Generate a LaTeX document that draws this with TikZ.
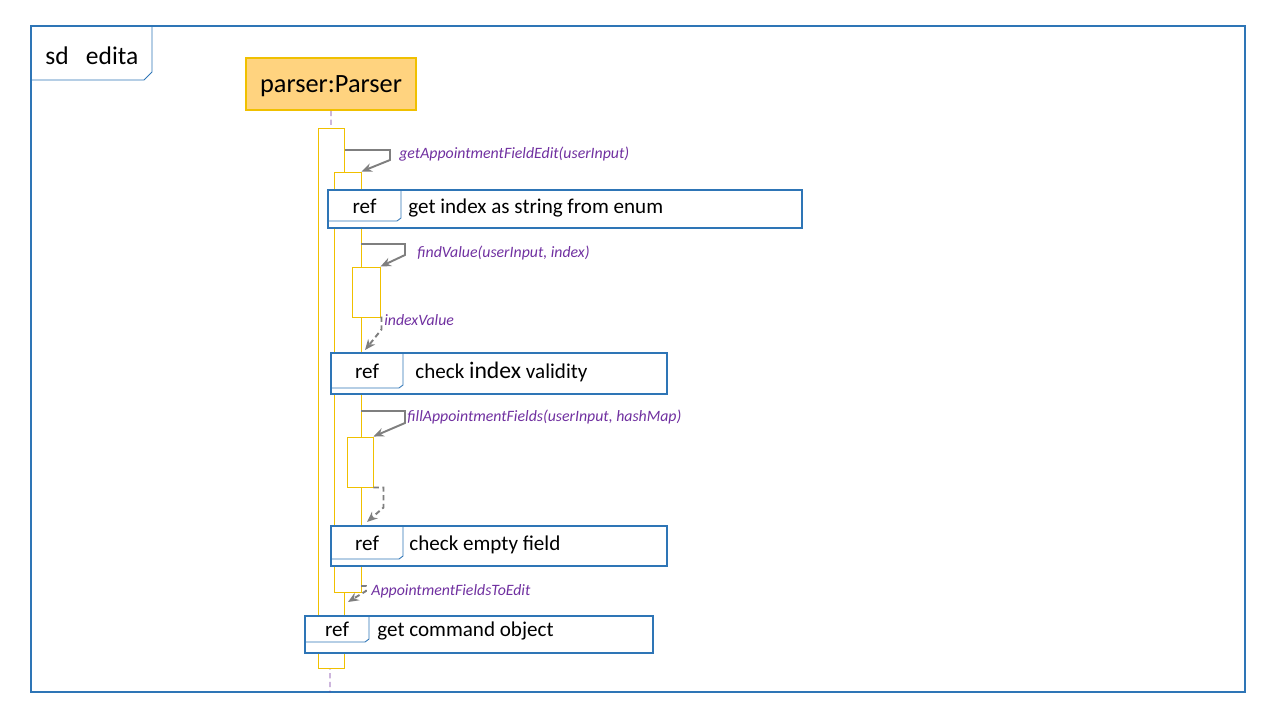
\documentclass[tikz,border=0pt]{standalone}
\usepackage{fontspec}
\setmainfont{Carlito}
\usetikzlibrary{arrows.meta,fit}
\definecolor{umlblue}{HTML}{2E75B6}
\definecolor{headfill}{HTML}{FFD37F}
\definecolor{gold}{HTML}{F0C000}
\definecolor{msgpurple}{HTML}{7030A0}
\definecolor{msggrey}{HTML}{7F7F7F}

\begin{document}
\begin{tikzpicture}[x=0.02cm,y=-0.02cm,
    act/.style={draw=gold,fill=white,line width=0.55pt,inner sep=0pt},
    refbox/.style={draw=umlblue,fill=white,line width=1.1pt,inner sep=0pt},
    tagline/.style={draw=umlblue,line width=0.5pt},
    call/.style={draw=msggrey,line width=1.1pt,-{Stealth[length=6pt,width=5pt]}},
    ret/.style={call,dash pattern=on 3pt off 2pt},
    msg/.style={anchor=west,text=msgpurple,font=\fontsize{9}{11}\selectfont\itshape,inner sep=0pt,
      text height=6pt,text depth=2pt},
    reftxt/.style={anchor=west,inner sep=0pt,font=\fontsize{12}{14}\selectfont,
      text height=8pt,text depth=2.5pt}]
  \useasboundingbox (0,0) rectangle (1280,720);
  % frame
  \node[draw=umlblue,line width=1.2pt,inner sep=0pt,fit={(31,26) (1245,692)}] (frame) {};
  \draw[tagline] (152,26) -- (152,72) -- (144,80) -- (31,80);
  \node[anchor=west,inner sep=0pt,font=\fontsize{14.5}{17}\selectfont,
    text height=10pt,text depth=3pt] (sd) at (45,58) {sd\ \ \ edita};
  % lifeline
  \node[draw=gold,fill=headfill,line width=1pt,minimum width=3.4cm,minimum height=1.04cm,
    font=\fontsize{15}{18}\selectfont,text height=10pt,text depth=3pt] (parser) at (331,84) {};
  \node[font=\fontsize{15}{18}\selectfont,text height=10pt,text depth=3pt,inner sep=0pt]
    (parser-txt) at (331,86) {parser:Parser};
  \coordinate (lend) at (330,692);
  \draw[msgpurple,line width=0.5pt,dash pattern=on 3pt off 2pt] (parser.south) -- (lend);
  % activations
  \foreach \nm/\xl/\yt/\xr/\yb in {a1/318/128/344/668,a2/334/172/361/592,
      a3/352/267/380/317,a4/347/437/373/487}{
    \node[act,fit={(\xl,\yt) (\xr,\yb)}] (\nm) {};}
  % refs
  \foreach \nm/\xl/\yt/\xr/\yb/\xs/\ys/\xt/\txt in {
      r1/328/190/802/228/401/221/408/{get index as string from enum},
      r2/331/353/667/394/403/388/415/{check {\fontsize{13.5}{16}\selectfont index} validity},
      r3/331/526/667/566/403/559/409/{check empty field},
      r4/305/616/653/653/369/642/377/{get command object}}{
    \node[refbox,fit={(\xl,\yt) (\xr,\yb)}] (\nm) {};
    \draw[tagline] (\xs,\yt) -- (\xs,\ys-3) -- (\xs-4,\ys) -- (\xl,\ys);
    \node[reftxt,anchor=center] (\nm-tag) at ({(\xl+\xs)/2},{(\yt+\ys)/2+3}) {ref};
    \node[reftxt] (\nm-txt) at (\xt,{(\yt+\ys)/2+3}) {\txt};}
  % messages
  \coordinate (c1) at (345,150);
  \coordinate (c2) at (361,244);
  \coordinate (c3) at (361,411);
  \coordinate (c4) at (361,586);
  \coordinate (i1) at (365,350);
  \coordinate (i2) at (367,522);
  \coordinate (i3) at (348,602);
  \draw[call] (c1) -- ++(45,0) -- ++(0,10) -- (a2.north east);
  \node[msg] (m1) at (399,155) {getAppointmentFieldEdit(userInput)};
  \draw[call] (c2) -- ++(44,0) -- ++(0,11) -- (a3.north east);
  \node[msg] (m2) at (417,254) {findValue(userInput, index)};
  \draw[ret] (a3.south east) -- ++(1,0) -- ++(0,12) -- (i1);
  \node[msg] (m3) at (384,322) {indexValue};
  \draw[call] (c3) -- ++(44,0) -- ++(0,12) -- (a4.north east);
  \node[msg] (m4) at (407,418) {fillAppointmentFields(userInput, hashMap)};
  \draw[ret] (a4.south east) -- ++(10,0) -- ++(0,20) -- (i2);
  \draw[ret] (c4) -- ++(5,0) -- ++(0,5) -- (i3);
  \node[msg] (m5) at (371,592) {AppointmentFieldsToEdit};
\end{tikzpicture}
\end{document}
